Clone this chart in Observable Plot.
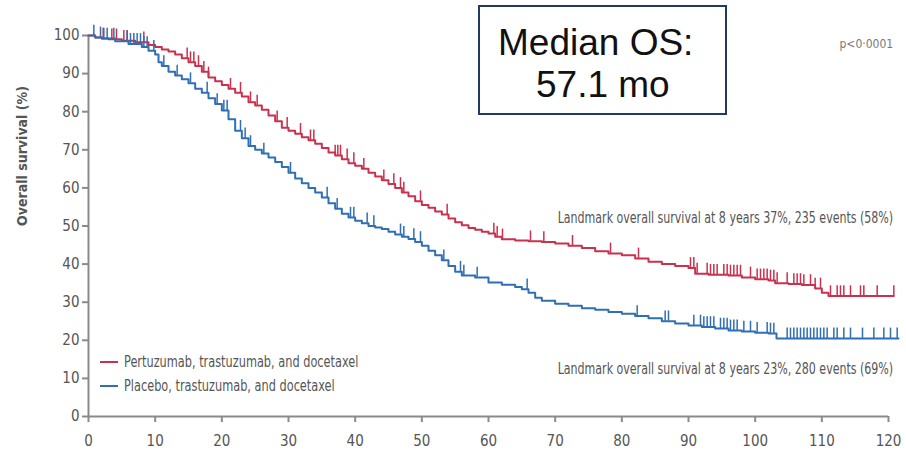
<!DOCTYPE html>
<html>
<head>
<meta charset="utf-8">
<script src="https://cdn.jsdelivr.net/npm/d3@7"></script>
<script src="https://cdn.jsdelivr.net/npm/@observablehq/plot@0.6"></script>
<style>
  html, body { margin: 0; padding: 0; background: #fff; }
  #wrap { position: relative; width: 906px; height: 452px; overflow: hidden; }
  .narrow { font-family: 'Liberation Sans Narrow', 'DejaVu Sans Condensed', 'Arial Narrow', sans-serif; }
  #median {
    position: absolute; left: 478px; top: 5px; width: 245px; height: 106px;
    border: 2px solid #1f3b63; background: #fff;
    font-family: 'Liberation Sans', Arial, sans-serif; font-size: 37px; line-height: 42px;
    color: #111; white-space: pre; box-sizing: content-box;
  }
  #median div { position: absolute; }
  #legend { position: absolute; left: 100px; top: 350px; color: #555; font-size: 15px; }
  #legend .row { display: flex; align-items: center; height: 24px; white-space: nowrap; }
  #legend .sw { width: 18px; height: 0; border-top: 2px solid; margin-right: 6px; flex: none; }
  #legend .lab { display: inline-block; transform: scaleX(0.84); transform-origin: left center; }
</style>
</head>
<body>
<div id="wrap"></div>
<script>
// Kaplan–Meier knots: month, overall survival (%)
const redTime = [0, 1, 2, 3, 5, 7, 9, 10, 11, 12, 13, 14, 15, 16, 17, 18, 19, 20, 21, 22, 23, 24, 25, 26, 27, 28, 29, 30, 31, 32, 33, 34, 35, 36, 37, 38, 39, 40, 41, 42, 43, 44, 45, 46, 47, 48, 49, 50, 51, 52, 53, 54, 55, 56, 57, 58, 59, 60, 61, 62, 64, 66, 68, 70, 72, 74, 76, 78, 80, 82, 84, 86, 88, 90, 91, 93, 96, 98, 100, 102, 103, 105, 107, 109, 110, 111, 120.8];
const redSurv = [100, 99.5, 99.2, 99, 98.6, 98.2, 97.5, 97, 96.3, 95.8, 95, 94, 93, 92, 90.5, 89, 88, 87, 86, 85, 84, 82.5, 81.6, 80.5, 79, 77.5, 75.8, 75, 74.2, 73.3, 72.5, 71.6, 70.5, 69.3, 68.5, 67.5, 66.5, 65.8, 65, 64, 63, 62, 61, 60, 58.8, 57.8, 56.5, 55.5, 54.8, 53.8, 53, 52, 51, 50.2, 49.5, 49, 48.5, 48, 47.2, 46.5, 46.2, 46, 45.8, 45.4, 44.8, 44.2, 43.4, 42.8, 42.3, 41.5, 40.6, 40, 39.5, 39, 37.5, 37.2, 37, 36.5, 36, 35.7, 35, 34.8, 34.5, 33.6, 32.5, 31.6, 31.6];

const blueTime = [0, 1, 2, 4, 6, 8, 9, 10, 10.5, 11, 12, 13, 14, 15, 16, 17, 18, 19, 20, 21, 22, 23, 24, 25, 26, 27, 28, 29, 30, 31, 32, 33, 34, 35, 36, 37, 38, 39, 40, 41, 42, 43, 44, 45, 46, 47, 48, 49, 50, 51, 52, 53, 54, 55, 56, 58, 60, 62, 64, 65, 66, 67, 68, 70, 72, 74, 76, 78, 80, 82, 84, 86, 88, 90, 92, 94, 96, 98, 100, 102, 103.2, 121.5];
const blueSurv = [100, 99.5, 99.2, 98.5, 97.8, 97, 96, 95, 93, 92, 90.5, 89.5, 88.5, 87.5, 86, 85, 83.5, 82, 80.3, 78, 75, 73, 71, 70, 69, 68, 66.8, 65.5, 64, 62.5, 61.2, 60, 58.8, 57.5, 56, 54.5, 53.2, 52.2, 51.4, 50.7, 50, 49.6, 49.2, 48.5, 47.8, 47.2, 46.6, 45.8, 44.8, 43.5, 42.3, 41, 39.5, 38, 37, 36.5, 35.2, 34.6, 34, 33.4, 32.5, 31.2, 30.4, 29.6, 29.1, 28.4, 28, 27.4, 27, 26.4, 25.8, 25, 24.4, 23.9, 23.5, 23.1, 22.6, 22.3, 22, 21.8, 20.5, 20.5];

// Censoring times (months)
const redCensor = [2.2, 3.5, 4.2, 5.3, 5.8, 8.3, 14.8, 15.3, 15.8, 16.5, 17.3, 18, 21.3, 22.8, 24.3, 25.3, 28.3, 29.8, 31.8, 33.3, 33.8, 37, 37.4, 37.8, 38.8, 39.8, 41.3, 44.3, 45.8, 46.8, 47.3, 49.8, 53.8, 60.8, 61.3, 62.1, 66.3, 68.3, 72.6, 78.3, 82.5, 90.3, 90.8, 91.3, 92.8, 93.3, 93.8, 94.3, 95.3, 95.8, 96.3, 96.8, 97.3, 97.8, 99.3, 100.3, 100.8, 101.3, 101.8, 102.3, 102.8, 103.3, 104.8, 105.8, 106.3, 106.8, 107.3, 108.3, 109, 109.8, 111.3, 112.3, 112.8, 113.3, 114.3, 115.8, 116.3, 118.3, 120.8];
const blueCensor = [0.8, 1.8, 2.3, 2.8, 3.8, 5.8, 6.3, 6.8, 7.3, 7.8, 8.3, 8.8, 9.8, 11.3, 13.3, 15.3, 17.8, 19.3, 20.3, 20.8, 22.8, 23.5, 24.3, 26.3, 30.3, 35.8, 37.3, 39.3, 39.8, 41.8, 42.8, 46.8, 47.3, 48.8, 49.8, 53.3, 55.8, 56.3, 58.3, 65.8, 82.3, 86.5, 87, 90.8, 91.8, 92.3, 92.8, 93.3, 93.8, 94.8, 95.3, 95.8, 96.3, 96.8, 97.3, 98.3, 99.3, 100.3, 101.8, 102.3, 102.8, 104.8, 105.3, 105.8, 106.3, 106.8, 107.3, 107.8, 108.3, 108.8, 109.3, 109.8, 110.3, 110.8, 111.8, 112.3, 113.3, 114.3, 116.1, 117.8, 119.3, 120.3, 121.3];

const armNames = ["Pertuzumab, trastuzumab, and docetaxel", "Placebo, trastuzumab, and docetaxel"];
const armColors = ["#c8324f", "#2f6fb4"];
const xTicks = [0, 10, 20, 30, 40, 50, 60, 70, 80, 90, 100, 110, 120];
const yTicks = [0, 10, 20, 30, 40, 50, 60, 70, 80, 90, 100];
const yLabel = "Overall survival (%)";
const landmarkLabels = [
  "Landmark overall survival at 8 years 37%, 235 events (58%)",
  "Landmark overall survival at 8 years 23%, 280 events (69%)"
];
const pLabel = "p<0·0001";

const arms = [
  {name: armNames[0], color: armColors[0], time: redTime, surv: redSurv, censor: redCensor},
  {name: armNames[1], color: armColors[1], time: blueTime, surv: blueSurv, censor: blueCensor}
];

// survival at time t from the step function
function survAt(arm, t) {
  const i = d3.bisectRight(arm.time, t) - 1;
  return arm.surv[Math.max(0, i)];
}

const curveRows = arms.flatMap(a => a.time.map((t, i) => ({arm: a.name, t, s: a.surv[i]})));
const censorRows = arms.flatMap(a => a.censor.map(t => ({arm: a.name, t, s: survAt(a, t)})));

const narrow = "'Liberation Sans Narrow', 'DejaVu Sans Condensed', 'Arial Narrow', sans-serif";
const axisGrey = "#8a8a8a";

const chart = Plot.plot({
  width: 906,
  height: 452,
  marginLeft: 88,
  marginRight: 18,
  marginTop: 35,
  marginBottom: 36,
  style: {fontFamily: narrow, fontSize: "15px", color: "#555", background: "transparent"},
  x: {domain: [0, 120]},
  y: {domain: [0, 100]},
  color: {domain: armNames, range: armColors},
  marks: [
    Plot.axisY({ticks: yTicks, tickSize: 6, tickPadding: 3, stroke: axisGrey, strokeWidth: 2, label: null}),
    Plot.axisX({ticks: xTicks, tickSize: 6, tickPadding: 13, stroke: axisGrey, strokeWidth: 2, label: null}),
    Plot.text([yLabel], {frameAnchor: "left", text: d => d, rotate: -90, dx: -66, fill: "#555",
      fontSize: 14, fontWeight: "bold", className: "ylab"}),
    Plot.ruleX([0], {y1: 0, y2: 100, stroke: axisGrey, strokeWidth: 2}),
    Plot.ruleY([0], {x1: 0, x2: 120, stroke: axisGrey, strokeWidth: 2}),
    Plot.line(curveRows, {x: "t", y: "s", z: "arm", stroke: "arm", curve: "step-after", strokeWidth: 2}),
    Plot.ruleX(censorRows, {x: "t", y1: "s", y2: d => d.s + 2.7, stroke: "arm", strokeWidth: 1.5}),
    Plot.text([landmarkLabels[0]], {x: 120.7, y: 52, text: d => d, textAnchor: "end", fill: "#555",
      fontSize: 15, className: "landmark"}),
    Plot.text([landmarkLabels[1]], {x: 120.7, y: 12.3, text: d => d, textAnchor: "end", fill: "#555",
      fontSize: 15, className: "landmark"}),
    Plot.text([pLabel], {x: 120.7, y: 97.8, text: d => d, textAnchor: "end", fill: "#777", fontSize: 12})
  ]
});

const wrap = document.getElementById("wrap");
wrap.appendChild(chart);
chart.style.position = "absolute";
chart.style.left = "0";
chart.style.top = "0";

// squeeze a text horizontally about its anchor to a given run length
function condense(selection, target) {
  selection.each(function() {
    const len = this.getComputedTextLength();
    if (!len) return;
    const k = Math.min(1, target / len);
    const t = this.getAttribute("transform") || "";
    this.setAttribute("transform", `${t} scale(${k.toFixed(4)},1)`);
  });
}
condense(d3.select(chart).selectAll(".landmark text"), 336);
condense(d3.select(chart).selectAll(".ylab text"), 158);

// Median OS call-out
const box = document.createElement("div");
box.id = "median";
const l1 = document.createElement("div");
l1.textContent = "Median OS:";
l1.style.left = "18px"; l1.style.top = "15px";
const l2 = document.createElement("div");
l2.textContent = "57.1 mo";
l2.style.left = "56px"; l2.style.top = "57px";
box.append(l1, l2);
wrap.appendChild(box);

// legend
const legend = document.createElement("div");
legend.id = "legend";
legend.className = "narrow";
arms.forEach(a => {
  const row = document.createElement("div");
  row.className = "row";
  const sw = document.createElement("span");
  sw.className = "sw";
  sw.style.borderColor = a.color;
  const lab = document.createElement("span");
  lab.className = "lab";
  lab.textContent = a.name;
  row.append(sw, lab);
  legend.appendChild(row);
});
wrap.appendChild(legend);
</script>
</body>
</html>
